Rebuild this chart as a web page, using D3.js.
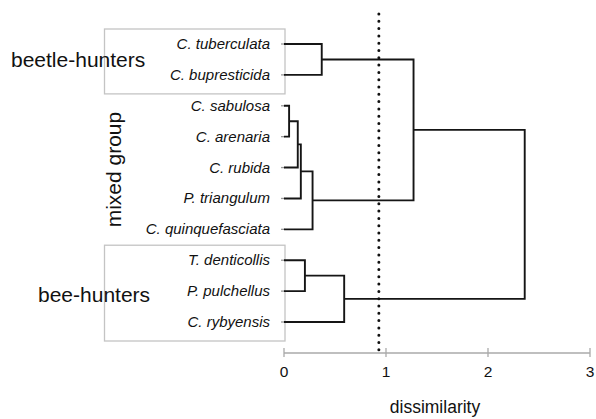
<!DOCTYPE html>
<html>
<head>
<meta charset="utf-8">
<script src="https://cdn.jsdelivr.net/npm/d3@7"></script>
<style>
  body { margin: 0; background: #fff; }
  text { font-family: "Liberation Sans", Arial, sans-serif; fill: #111; }
</style>
</head>
<body>
<svg width="596" height="419"></svg>
<script>
// leaves in plotted order, top to bottom
const leaves = ["C. tuberculata", "C. bupresticida", "C. sabulosa", "C. arenaria", "C. rubida",
  "P. triangulum", "C. quinquefasciata", "T. denticollis", "P. pulchellus", "C. rybyensis"];
// hclust style merges: negative = leaf (1-based), positive = earlier merge
const merges = [[-3, -4], [1, -5], [2, -6], [-8, -9], [3, -7], [-1, -2], [4, -10], [6, 5], [8, 7]];
const heights = [0.05, 0.135, 0.165, 0.205, 0.28, 0.37, 0.59, 1.27, 2.36];
const cutHeight = 0.93;
const xTicks = [0, 1, 2, 3];
const groups = [
  { name: "beetle-hunters", first: 0, last: 1, boxed: true },
  { name: "mixed group", first: 2, last: 6, boxed: false },
  { name: "bee-hunters", first: 7, last: 9, boxed: true }
];

const svg = d3.select("svg");

const x = d3.scaleLinear().domain([0, 3]).range([284, 590]);
const y = d3.scalePoint().domain(d3.range(leaves.length)).range([44, 322]);

// boxes around the hunting groups (drawn first, under everything)
groups.filter(g => g.boxed).forEach(g => {
  const top = y(g.first) - 15, bot = y(g.last) + 19;
  svg.append("rect")
    .attr("x", 104.5).attr("y", top)
    .attr("width", x(0) + 1 - 104.5).attr("height", bot - top)
    .attr("fill", "none").attr("stroke", "#c4c4c4").attr("stroke-width", 1.3);
});

// leaf labels
svg.selectAll(".leaf").data(leaves).enter().append("text")
  .attr("class", "leaf")
  .attr("x", 270).attr("y", (d, i) => y(i) + 5)
  .attr("text-anchor", "end")
  .attr("font-size", 15)
  .attr("font-style", "italic")
  .text(d => d);

// small grey leaf ticks
svg.selectAll(".ltick").data(leaves).enter().append("line")
  .attr("x1", x(0) - 3).attr("x2", x(0) + 1)
  .attr("y1", (d, i) => y(i)).attr("y2", (d, i) => y(i))
  .attr("stroke", "#999").attr("stroke-width", 1.3);

// dendrogram
const nodes = [];
function pos(id) {
  if (id < 0) return { x: 0, y: y(-id - 1) };
  return nodes[id - 1];
}
const path = d3.path();
merges.forEach((m, i) => {
  const a = pos(m[0]), b = pos(m[1]);
  const h = heights[i];
  path.moveTo(x(a.x), a.y);
  path.lineTo(x(h), a.y);
  path.lineTo(x(h), b.y);
  path.lineTo(x(b.x), b.y);
  nodes.push({ x: h, y: (a.y + b.y) / 2 });
});
svg.append("path")
  .attr("d", path.toString())
  .attr("fill", "none").attr("stroke", "#151515").attr("stroke-width", 1.9);

// group labels
svg.append("text").attr("x", 11).attr("y", 67).attr("font-size", 21).text(groups[0].name);
svg.append("text").attr("x", 38).attr("y", 302).attr("font-size", 21).text(groups[2].name);
svg.append("text")
  .attr("transform", `translate(121,${(y(groups[1].first) + y(groups[1].last)) / 2 + 2}) rotate(-90)`)
  .attr("text-anchor", "middle").attr("font-size", 21).text(groups[1].name);

// x axis
const axisG = svg.append("g").attr("transform", "translate(0,353)");
axisG.append("line")
  .attr("x1", x(0)).attr("x2", x(3))
  .attr("stroke", "#aaa").attr("stroke-width", 1.3);
axisG.selectAll(".tk").data(xTicks).enter().append("line")
  .attr("x1", d => x(d)).attr("x2", d => x(d))
  .attr("y1", -5).attr("y2", 4)
  .attr("stroke", "#aaa").attr("stroke-width", 1.3);
axisG.selectAll(".tl").data(xTicks).enter().append("text")
  .attr("x", d => x(d)).attr("y", 24)
  .attr("text-anchor", "middle").attr("font-size", 15.5)
  .text(d => d);
svg.append("text")
  .attr("x", 435).attr("y", 413)
  .attr("text-anchor", "middle").attr("font-size", 17.5)
  .text("dissimilarity");

// cut line
svg.append("line")
  .attr("x1", x(cutHeight)).attr("x2", x(cutHeight))
  .attr("y1", 14).attr("y2", 354)
  .attr("stroke", "#111").attr("stroke-width", 3)
  .attr("stroke-linecap", "round")
  .attr("stroke-dasharray", "0,7.3");
</script>
</body>
</html>
